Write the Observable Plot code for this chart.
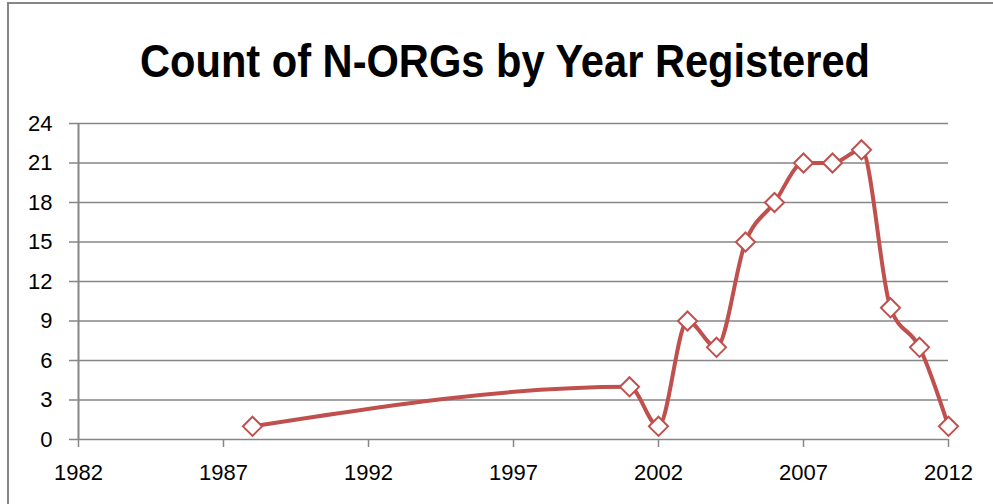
<!DOCTYPE html>
<html>
<head>
<meta charset="utf-8">
<script src="https://cdn.jsdelivr.net/npm/d3@7"></script>
<script src="https://cdn.jsdelivr.net/npm/@observablehq/plot@0.6"></script>
<style>
  html, body { margin: 0; padding: 0; background: #fff; }
  #wrap { position: relative; width: 993px; height: 504px; overflow: hidden; background: #fff; }
  #borderL { position: absolute; left: 7px; top: 2px; width: 2px; height: 510px; background: #868686; }
  #borderT { position: absolute; left: 7px; top: 2px; width: 1000px; height: 2px; background: #868686; }
  #title { position: absolute; left: 0; top: 0; width: 993px; height: 110px; }
  #title span { position: absolute; white-space: nowrap; font-family: "Liberation Sans", Arial, sans-serif; font-weight: bold; font-size: 47px; color: #000; transform-origin: 0 0; }
  #chart { position: absolute; left: 0; top: 110px; }
  #chart svg text { font-size: 22px !important; font-family: "Liberation Sans", Arial, sans-serif !important; fill: #000; }
</style>
</head>
<body>
<div id="wrap">
  <div id="title"><span id="titleText">Count of N-ORGs by Year Registered</span></div>
  <div id="chart"></div>
  <div id="borderL"></div>
  <div id="borderT"></div>
</div>
<script>
const titleText = "Count of N-ORGs by Year Registered";
const years  = [1988, 2001, 2002, 2003, 2004, 2005, 2006, 2007, 2008, 2009, 2010, 2011, 2012];
const counts = [1, 4, 1, 9, 7, 15, 18, 21, 21, 22, 10, 7, 1];
const xTicks = [1982, 1987, 1992, 1997, 2002, 2007, 2012];
const yTicks = [0, 3, 6, 9, 12, 15, 18, 21, 24];

const data = years.map((y, i) => ({year: y, count: counts[i]}));

const red = "#C0504D";
const grid = "#868686";

// title: fit to measured width
const t = document.getElementById("titleText");
t.textContent = titleText;
const w = t.getBoundingClientRect().width;
const targetW = 730;
const sx = targetW / w;
t.style.left = (505 - targetW / 2) + "px";
t.style.top = "33px";
t.style.transform = `scaleX(${sx})`;

const chart = Plot.plot({
  width: 993,
  height: 394,
  marginLeft: 78,
  marginRight: 45,
  marginTop: 13,
  marginBottom: 65,
  style: { fontFamily: "Liberation Sans, Arial, sans-serif", fontSize: "22px", color: "#000", background: "transparent", overflow: "visible" },
  x: { domain: [1982, 2012], ticks: xTicks, tickFormat: d => String(d) },
  y: { domain: [0, 24], ticks: yTicks },
  marks: [
    Plot.ruleY(yTicks, { x1: 1982, x2: 2012, stroke: grid, strokeWidth: 1.5, strokeOpacity: 1 }),
    Plot.axisY({ ticks: yTicks, tickSize: 9, tickPadding: 17, stroke: grid, strokeOpacity: 1, strokeWidth: 1.5, label: null, fill: "#000", fontSize: 22 }),
    Plot.axisX({ ticks: xTicks, tickSize: 8, tickPadding: 17, stroke: grid, strokeOpacity: 1, strokeWidth: 1.5, label: null, tickFormat: d => String(d), fill: "#000", fontSize: 22 }),
    Plot.ruleX([1982], { y1: 0, y2: 24, stroke: grid, strokeWidth: 2 }),
    Plot.line(data, { x: "year", y: "count", stroke: red, strokeWidth: 4, curve: "monotone-x" }),
    Plot.dot(data, { x: "year", y: "count", symbol: "diamond2", r: 8.6, stroke: red, strokeWidth: 2, fill: "#fff" })
  ]
});
document.getElementById("chart").appendChild(chart);
</script>
</body>
</html>
